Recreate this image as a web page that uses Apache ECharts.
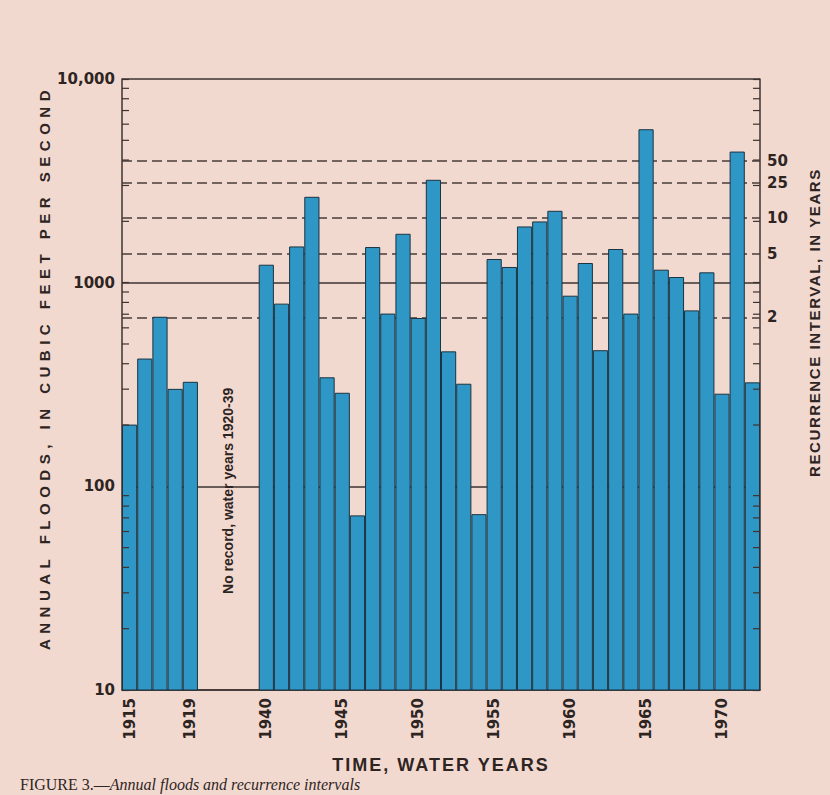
<!DOCTYPE html>
<html>
<head>
<meta charset="utf-8">
<script src="https://cdn.jsdelivr.net/npm/echarts@6/dist/echarts.min.js"></script>
<style>
html,body{margin:0;padding:0;background:#f2d9d0;}
#chart{width:830px;height:795px;}
</style>
</head>
<body>
<div id="chart"></div>
<script>
// ---- data ----
const yearsEarly = [1915, 1916, 1917, 1918, 1919];
const floodsEarly = [201, 424, 680, 301, 326];
const gapSlots = [' ', '  ', '   ', '    ']; // no record, water years 1920-39
const yearsLate = [1940, 1941, 1942, 1943, 1944, 1945, 1946, 1947, 1948, 1949,
  1950, 1951, 1952, 1953, 1954, 1955, 1956, 1957, 1958, 1959,
  1960, 1961, 1962, 1963, 1964, 1965, 1966, 1967, 1968, 1969,
  1970, 1971, 1972];
const floodsLate = [1225, 789, 1506, 2640, 343, 288, 72, 1496, 705, 1738,
  671, 3199, 460, 319, 73, 1307, 1194, 1888, 1998, 2254,
  863, 1249, 466, 1463, 705, 5666, 1158, 1066, 731, 1124,
  285, 4402, 324];
const shownYearLabels = ['1915', '1919', '1940', '1945', '1950', '1955', '1960', '1965', '1970'];
const yTickLabels = { 10: '10', 100: '100', 1000: '1000', 10000: '10,000' };
const recurrenceYears = ['50', '25', '10', '5', '2'];
const recurrenceFlows = [3970, 3100, 2082, 1384, 675];
const minorTickFlows = [20, 30, 40, 50, 60, 70, 80, 90,
  200, 300, 400, 500, 600, 700, 800, 900,
  2000, 3000, 4000, 5000, 6000, 7000, 8000, 9000];
const noRecordText = 'No record, water years 1920-39';
const leftTitle = 'ANNUAL FLOODS, IN CUBIC FEET PER SECOND';
const rightTitle = 'RECURRENCE INTERVAL, IN YEARS';
const bottomTitle = 'TIME, WATER YEARS';
const captionLead = 'FIGURE 3.—';
const captionText = 'Annual floods and recurrence intervals';

// ---- build ----
const categories = yearsEarly.map(String).concat(gapSlots, yearsLate.map(String));
const values = floodsEarly.concat(gapSlots.map(() => '-'), floodsLate);

const INK = '#2e2523';
const LINE = '#3d3230';
const BOLD = 'DejaVu Sans';
const HELV = 'Liberation Sans';

const chart = echarts.init(document.getElementById('chart'), null, { renderer: 'svg' });

const option = {
  backgroundColor: '#f2d9d0',
  animation: false,
  grid: { left: 122, right: 70, top: 79, bottom: 105, containLabel: false },
  xAxis: {
    type: 'category',
    data: categories,
    boundaryGap: true,
    name: bottomTitle,
    nameLocation: 'middle',
    nameGap: 66,
    nameTextStyle: { fontFamily: HELV, fontWeight: 'bold', fontSize: 18, color: INK },
    axisLine: { show: true, lineStyle: { color: LINE, width: 1.5 } },
    axisTick: { show: false },
    axisLabel: {
      rotate: 90,
      interval: (i, v) => shownYearLabels.indexOf(v) >= 0,
      fontFamily: BOLD, fontWeight: 'bold', fontSize: 15, color: INK, margin: 8
    },
    splitLine: { show: false }
  },
  yAxis: [
    {
      type: 'log', logBase: 10, min: 10, max: 10000, position: 'left',
      axisLine: { show: true, lineStyle: { color: LINE, width: 1.5 } },
      axisTick: { show: true, inside: true, length: 7, lineStyle: { color: LINE, width: 1.2 } },
      axisLabel: {
        formatter: v => yTickLabels[Math.round(v)] || '',
        fontFamily: BOLD, fontWeight: 'bold', fontSize: 15, color: INK, margin: 7
      },
      splitLine: { show: true, lineStyle: { color: LINE, width: 1.5, type: 'solid' } }
    },
    {
      type: 'log', logBase: 10, min: 10, max: 10000, position: 'right',
      axisLine: { show: true, lineStyle: { color: LINE, width: 1.5 } },
      axisTick: { show: true, inside: true, length: 7, lineStyle: { color: LINE, width: 1.2 } },
      axisLabel: { show: false },
      splitLine: { show: false }
    }
  ],
  series: [
    {
      type: 'bar',
      data: values,
      xAxisIndex: 0, yAxisIndex: 0,
      barCategoryGap: '0%',
      z: 3,
      itemStyle: { color: '#2f97c5', borderColor: '#1c3341', borderWidth: 1 },
      markLine: {
        silent: true,
        z: 1,
        symbol: ['none', 'none'],
        lineStyle: { type: [10, 5], color: '#4a3c3a', width: 1.5 },
        label: {
          position: 'end', distance: 7,
          formatter: p => p.name,
          fontFamily: BOLD, fontWeight: 'bold', fontSize: 15, color: INK
        },
        emphasis: { disabled: true },
        data: recurrenceFlows.map((v, i) => ({ yAxis: v, name: recurrenceYears[i] }))
      }
    },
    {
      type: 'custom',
      xAxisIndex: 0, yAxisIndex: 0,
      z: 6, silent: true, clip: false,
      data: minorTickFlows.map(v => [0, v]),
      encode: { x: 0, y: 1 },
      renderItem: (params, api) => {
        const cs = params.coordSys;
        const y = api.coord([0, api.value(1)])[1];
        const st = { stroke: LINE, lineWidth: 1.2 };
        return {
          type: 'group',
          children: [
            { type: 'line', shape: { x1: cs.x, y1: y, x2: cs.x + 7, y2: y }, style: st },
            { type: 'line', shape: { x1: cs.x + cs.width - 7, y1: y, x2: cs.x + cs.width, y2: y }, style: st }
          ]
        };
      }
    }
  ]
};

chart.setOption(option);

// annotation positions from the chart's own scales
const toPx = (cat, v, yi) => chart.convertToPixel({ xAxisIndex: 0, yAxisIndex: yi }, [cat, v]);
const gapA = toPx(gapSlots[1], 95, 0);
const gapB = toPx(gapSlots[2], 95, 0);
const leftMid = toPx(categories[0], 383, 0);
const rightMid = toPx(categories[categories.length - 1], 637, 1);

chart.setOption({
  graphic: [
    {
      type: 'text',
      x: (gapA[0] + gapB[0]) / 2, y: gapA[1],
      rotation: Math.PI / 2,
      style: {
        text: noRecordText, align: 'center', verticalAlign: 'middle',
        font: 'bold 14px "Liberation Sans"', fill: INK
      }
    },
    {
      type: 'text',
      x: leftMid[0] - 85, y: leftMid[1],
      rotation: Math.PI / 2,
      style: {
        text: leftTitle, align: 'center', verticalAlign: 'middle',
        font: 'bold 15px "Liberation Sans"', fill: INK
      }
    },
    {
      type: 'text',
      x: rightMid[0] + 62, y: rightMid[1],
      rotation: Math.PI / 2,
      style: {
        text: rightTitle, align: 'center', verticalAlign: 'middle',
        font: 'bold 15px "Liberation Sans"', fill: INK
      }
    },
    {
      type: 'text',
      left: 20, top: 776,
      style: {
        text: '{a|' + captionLead + '}{b|' + captionText + '}',
        rich: {
          a: { font: '16px "Liberation Serif"', fill: INK },
          b: { font: 'italic 16px "Liberation Serif"', fill: INK }
        }
      }
    }
  ]
});

const spacing = {};
spacing[leftTitle] = '5.5px';
spacing[rightTitle] = '1.6px';
spacing[bottomTitle] = '2px';
function applySpacing() {
  document.querySelectorAll('#chart text').forEach(t => {
    const s = spacing[t.textContent];
    if (s) t.style.letterSpacing = s;
  });
}
chart.on('rendered', applySpacing);
applySpacing();
setTimeout(applySpacing, 50);
</script>
</body>
</html>
